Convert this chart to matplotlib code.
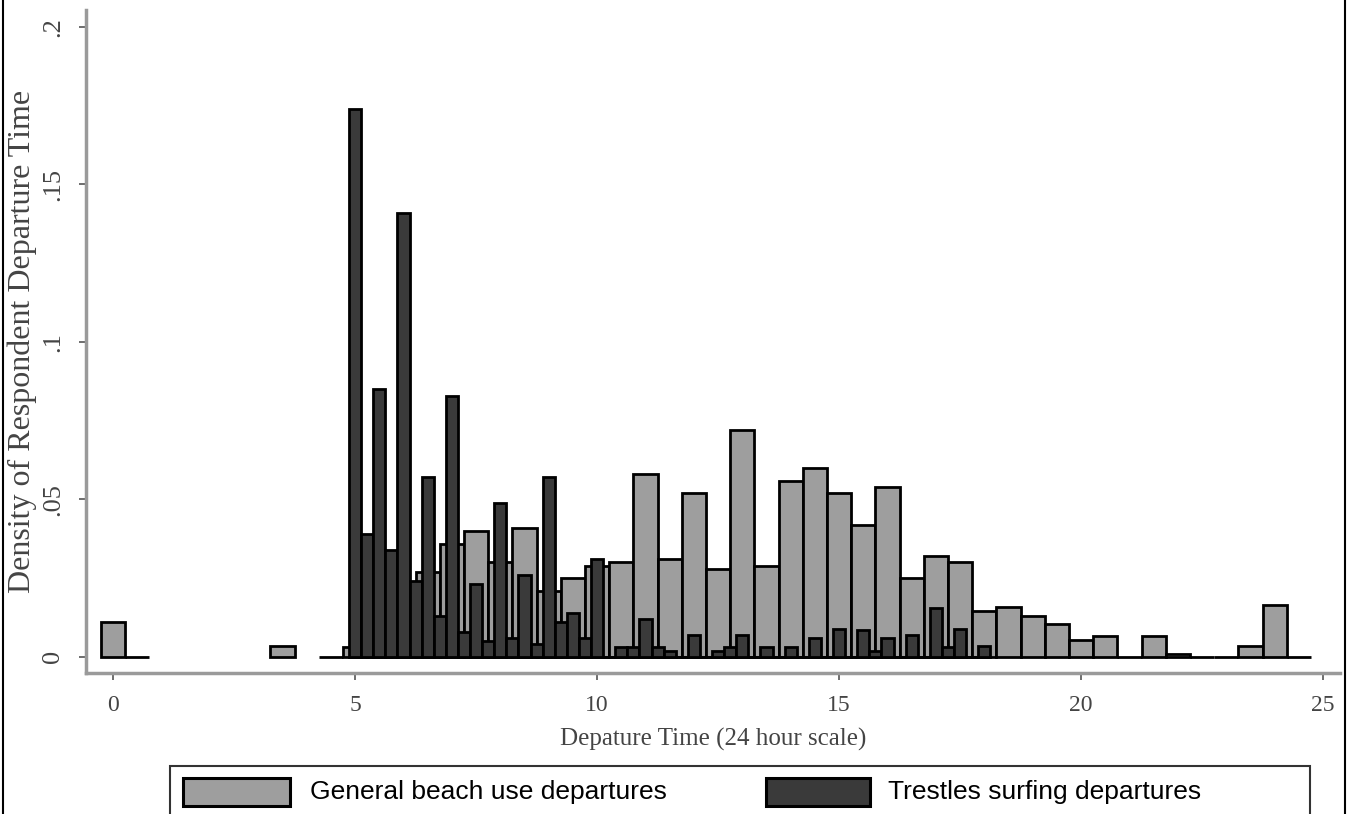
import numpy as np
import matplotlib
matplotlib.use("Agg")
import matplotlib.pyplot as plt
from matplotlib.patches import Rectangle
from matplotlib.lines import Line2D

nan = np.nan

# general beach use: half-hour bins, nan = no bar drawn
general_times = np.arange(0, 25, 0.5)
general_density = [0.011, 0.0, nan, nan, nan, nan, nan, 0.0035, nan, 0.0,
                   0.003, 0.02, 0.02, 0.027, 0.036, 0.040, 0.030, 0.041, 0.021, 0.025,
                   0.029, 0.030, 0.058, 0.031, 0.052, 0.028, 0.072, 0.029, 0.056, 0.060,
                   0.052, 0.042, 0.054, 0.025, 0.032, 0.030, 0.0145, 0.016, 0.013, 0.0105,
                   0.0055, 0.0065, 0.0, 0.0065, 0.001, 0.0, 0.0, 0.0035, 0.0165, 0.0]

# trestles surfing: quarter-hour bins from 5:00
surf_times = np.arange(5, 18.25, 0.25)
surf_density = [0.174, 0.039, 0.085, 0.034, 0.141, 0.024, 0.057, 0.013,
                0.083, 0.008, 0.023, 0.005, 0.049, 0.006, 0.026, 0.004,
                0.057, 0.011, 0.014, 0.006, 0.031, 0.0, 0.003, 0.003,
                0.012, 0.003, 0.002, 0.0, 0.007, 0.0, 0.002, 0.003,
                0.007, 0.0, 0.003, 0.0, 0.003, 0.0, 0.006, 0.0,
                0.009, 0.0, 0.0085, 0.002, 0.006, 0.0, 0.007, 0.0,
                0.0155, 0.003, 0.009, 0.0, 0.0035]

xticks = [0, 5, 10, 15, 20, 25]
yticks = [0, 0.05, 0.1, 0.15, 0.2]
ytick_labels = ["0", ".05", ".1", ".15", ".2"]

labels = ["General beach use departures", "Trestles surfing departures"]
gray_col = "#9e9e9e"
dark_col = "#3a3a3a"

W, H = 1348, 814
fig = plt.figure(figsize=(W / 100, H / 100), dpi=100)
ax = fig.add_axes([86 / W, 1 - 673 / H, (1340 - 86) / W, (673 - 10) / H])

g = np.array(general_density)
m = np.isfinite(g)
ax.bar(general_times[m], g[m], width=0.5, color=gray_col, edgecolor="black", linewidth=2.0)
ax.bar(surf_times, surf_density, width=0.25, color=dark_col, edgecolor="black", linewidth=2.0)

ax.set_xlim(-0.56, 25.35)
ax.set_ylim(-0.0051, 0.2054)

for s in ["top", "right"]:
    ax.spines[s].set_visible(False)
for s in ["left", "bottom"]:
    ax.spines[s].set_color("#9a9a9a")
    ax.spines[s].set_linewidth(2.5)

serif = "Liberation Serif"
ax.set_xticks(xticks)
ax.set_xticklabels([str(t) for t in xticks], family=serif, fontsize=17, color="#444444")
ax.set_yticks(yticks)
ax.set_yticklabels(ytick_labels, family=serif, fontsize=19, color="#444444",
                   rotation=90, va="center")
ax.tick_params(axis="both", direction="out", length=5, width=1.2, color="#555555")
ax.tick_params(axis="x", pad=11)
ax.tick_params(axis="y", pad=11)

ax.set_xlabel("Depature Time (24 hour scale)", family=serif, fontsize=18, color="#444444")
ax.xaxis.set_label_coords(0.5, (673 - 739) / 663)
ax.xaxis.label.set_va("center")
ax.set_ylabel("Density of Respondent Departure Time", family=serif, fontsize=23, color="#444444")
ax.yaxis.set_label_coords((22 - 86) / 1254, (673 - 341) / 663)
ax.yaxis.label.set_va("center")

# legend box at the bottom (cut off by the figure edge)
def fx(px):
    return px / W

def fy(py):
    return 1 - py / H

fig.add_artist(Rectangle((fx(170), fy(822)), fx(1310) - fx(170), fy(766) - fy(822),
                         transform=fig.transFigure, facecolor="white",
                         edgecolor="#333333", linewidth=1.5))
for x0, x1, col, lab, tx in [(183, 290, gray_col, labels[0], 310),
                             (766, 870, dark_col, labels[1], 888)]:
    fig.add_artist(Rectangle((fx(x0), fy(806)), fx(x1) - fx(x0), fy(778) - fy(806),
                             transform=fig.transFigure, facecolor=col,
                             edgecolor="black", linewidth=2.2))
    fig.text(fx(tx), fy(792), lab, family="Liberation Sans", fontsize=19,
             color="black", va="center", ha="left")

# outer frame lines
fig.add_artist(Line2D([fx(3), fx(3)], [0, 1], color="black", linewidth=1.5))
fig.add_artist(Line2D([fx(1345), fx(1345)], [0, 1], color="black", linewidth=1.5))

fig.savefig("out.png", dpi=100)
